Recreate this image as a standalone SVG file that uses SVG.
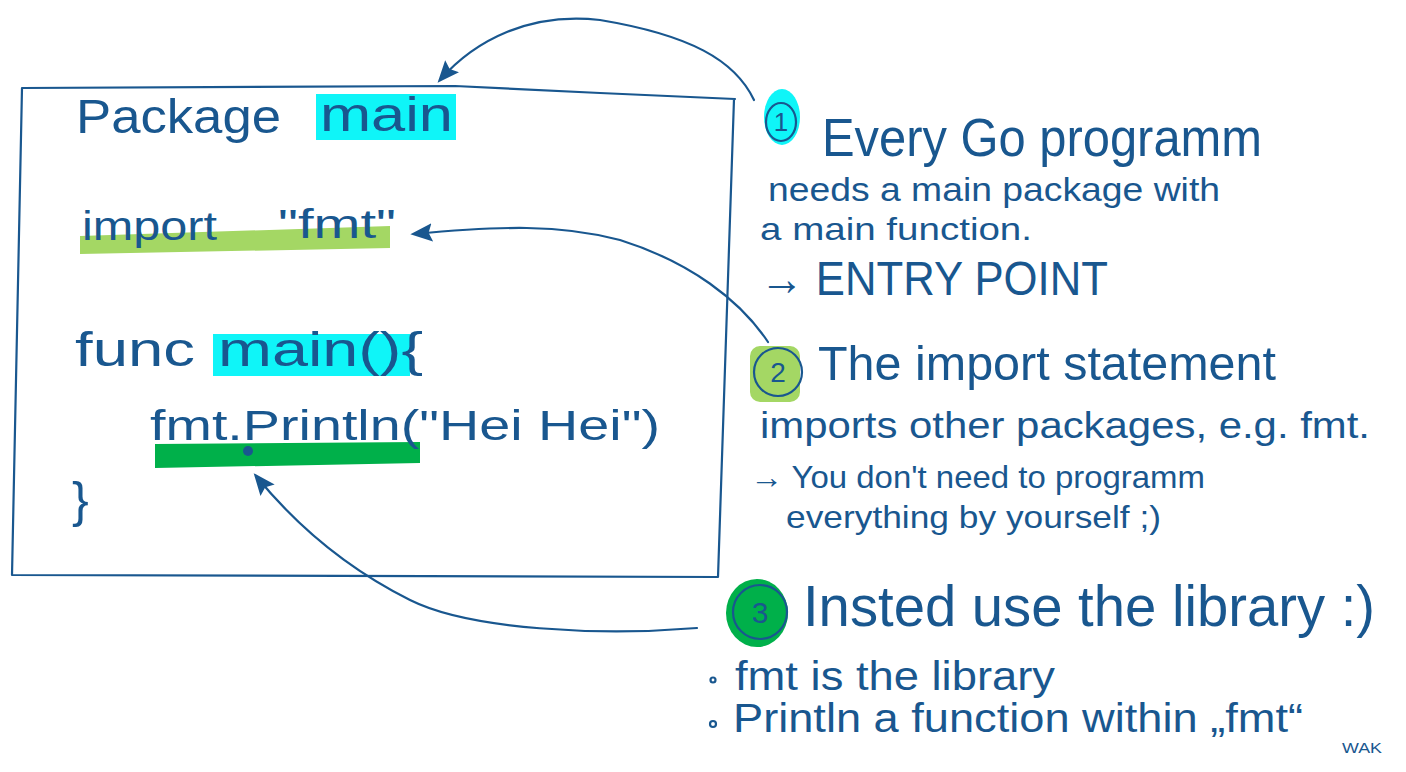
<svg xmlns="http://www.w3.org/2000/svg" width="1406" height="772" viewBox="0 0 1406 772">
<style>
  .t { font-family: "Liberation Sans", "DejaVu Sans", sans-serif; fill: #19578f; }
  .ln { fill: none; stroke: #19578f; stroke-width: 2.2; stroke-linecap: round; stroke-linejoin: round; }
  .cy { fill: #0ff5f8; }
  .lg { fill: #a4d764; }
  .dg { fill: #00b04a; }
</style>
<defs>
  <marker id="ah" viewBox="0 0 12 12" refX="10" refY="6" markerWidth="22" markerHeight="22" orient="auto" markerUnits="userSpaceOnUse">
    <path d="M0,1 L12,6 L0,11 L2,6 z" fill="#19578f"/>
  </marker>
</defs>
<rect width="1406" height="772" fill="#ffffff"/>

<g id="code-box">
  <path class="ln" d="M22,88 L455,86 L600,93 L735,99 M734,99 L718,577 M718,577 L12,575 M12,575 L22,88"/>
  <rect class="cy" x="316" y="94" width="140" height="46"/>
  <text class="t" x="76" y="133" font-size="48" textLength="205" lengthAdjust="spacingAndGlyphs">Package</text>
  <text class="t" x="320" y="131" font-size="48" textLength="133" lengthAdjust="spacingAndGlyphs">main</text>
  <path class="lg" d="M80,236 L390,226 L390,248 L80,254 z"/>
  <text class="t" x="82" y="240" font-size="40" textLength="135" lengthAdjust="spacingAndGlyphs">import</text>
  <text class="t" x="278" y="238" font-size="40" textLength="118" lengthAdjust="spacingAndGlyphs">"fmt"</text>
  <rect class="cy" x="213" y="334" width="197" height="42"/>
  <text class="t" x="75" y="366" font-size="48" textLength="120" lengthAdjust="spacingAndGlyphs">func</text>
  <text class="t" x="218" y="366" font-size="48" textLength="205" lengthAdjust="spacingAndGlyphs">main(){</text>
  <path class="dg" d="M155,444 L420,442 L420,463 L155,468 z"/>
  <text class="t" x="150" y="440" font-size="42" textLength="510" lengthAdjust="spacingAndGlyphs">fmt.Println("Hei Hei")</text>
  <circle cx="248" cy="451" r="5" fill="#19578f"/>
  <text class="t" x="72" y="517" font-size="50">}</text>
</g>

<g id="connectors">
  <path class="ln" marker-end="url(#ah)" d="M754,100 C735,60 690,35 600,20 C530,12 475,40 440,80"/>
  <path class="ln" marker-end="url(#ah)" d="M768,342 C740,300 690,262 620,240 C560,224 500,226 414,234"/>
  <path class="ln" marker-end="url(#ah)" d="M697,628 C600,636 470,630 410,600 C350,570 300,530 256,476"/>
</g>

<g id="note-1">
  <ellipse class="cy" cx="782" cy="117" rx="18" ry="28"/>
  <ellipse class="ln" cx="781" cy="122" rx="15" ry="19"/>
  <text class="t" x="781" y="131" font-size="26" text-anchor="middle">1</text>
  <text class="t" x="822" y="156" font-size="54" textLength="440" lengthAdjust="spacingAndGlyphs">Every Go programm</text>
  <text class="t" x="768" y="201" font-size="34" textLength="452" lengthAdjust="spacingAndGlyphs">needs a main package with</text>
  <text class="t" x="760" y="240" font-size="32" textLength="272" lengthAdjust="spacingAndGlyphs">a main function.</text>
  <text class="t" x="760" y="295" font-size="48" textLength="348" lengthAdjust="spacingAndGlyphs">→ ENTRY POINT</text>
</g>

<g id="note-2">
  <rect class="lg" x="750" y="346" width="50" height="56" rx="10"/>
  <circle class="ln" cx="778" cy="372" r="24"/>
  <text class="t" x="778" y="382" font-size="28" text-anchor="middle">2</text>
  <text class="t" x="818" y="380" font-size="48" textLength="458" lengthAdjust="spacingAndGlyphs">The import statement</text>
  <text class="t" x="760" y="438" font-size="36" textLength="610" lengthAdjust="spacingAndGlyphs">imports other packages, e.g. fmt.</text>
  <text class="t" x="750" y="488" font-size="32" textLength="455" lengthAdjust="spacingAndGlyphs">→ You don't need to programm</text>
  <text class="t" x="786" y="528" font-size="32" textLength="375" lengthAdjust="spacingAndGlyphs">everything by yourself ;)</text>
</g>

<g id="note-3">
  <ellipse class="dg" cx="757" cy="613" rx="31" ry="34"/>
  <circle class="ln" cx="760" cy="612" r="27"/>
  <text class="t" x="760" y="623" font-size="30" text-anchor="middle">3</text>
  <text class="t" x="803" y="626" font-size="58" textLength="572" lengthAdjust="spacingAndGlyphs">Insted use the library :)</text>
  <circle class="ln" cx="713" cy="680" r="2.5"/>
  <text class="t" x="735" y="690" font-size="40" textLength="320" lengthAdjust="spacingAndGlyphs">fmt is the library</text>
  <circle class="ln" cx="713" cy="724" r="3"/>
  <text class="t" x="733" y="732" font-size="40" textLength="570" lengthAdjust="spacingAndGlyphs">Println a function within „fmt“</text>
</g>

<g id="signature">
  <text class="t" x="1342" y="753" font-size="15" textLength="40" lengthAdjust="spacingAndGlyphs">WAK</text>
</g>
</svg>
